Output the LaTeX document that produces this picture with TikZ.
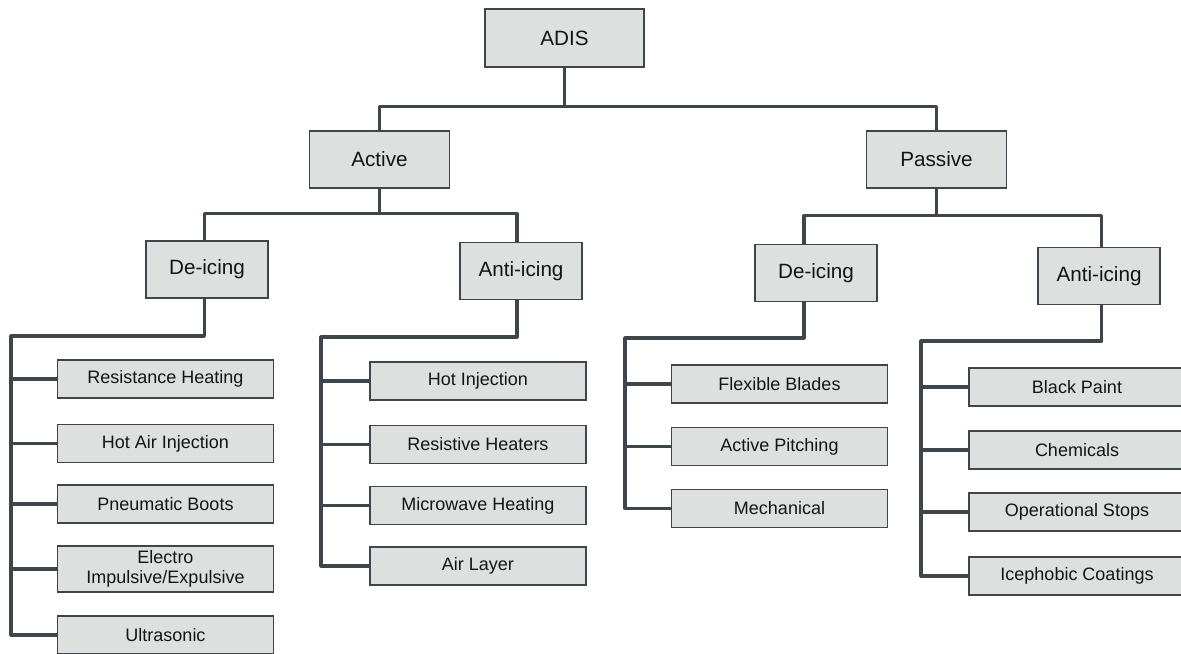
\documentclass[tikz,border=0pt]{standalone}
\usepackage{fontspec}
\setmainfont{Liberation Sans}
\definecolor{colFill}{RGB}{222,224,224}
\definecolor{colLine}{RGB}{62,69,75}
\definecolor{colText}{RGB}{20,20,20}
\tikzstyle{box}=[draw=colLine, fill=colFill, line width=1.2pt, inner sep=0pt, text=colText, align=center]
\tikzstyle{rootbox}=[box, minimum width=119.25pt, minimum height=43.5pt, font=\fontsize{15.5}{18}\selectfont]
\tikzstyle{catbox}=[box, minimum width=105pt, minimum height=42.75pt, font=\fontsize{15.5}{18}\selectfont]
\tikzstyle{subbox}=[box, minimum width=91.5pt, minimum height=42.75pt, font=\fontsize{15.5}{18}\selectfont]
\tikzstyle{leaf}=[box, minimum width=162pt, minimum height=28.5pt, font=\fontsize{13.5}{15}\selectfont]
\tikzstyle{link}=[line width=2.3pt, colLine, line join=round]

\begin{document}
\begin{tikzpicture}[x=0.75pt, y=-0.75pt]
			\clip (0,0) rectangle (1181,653);

			%%% Top levels
			\node[rootbox]  (adis) at (564.5,  38.0) {ADIS};
			\node[catbox]    (act) at (379.5, 159.5) {Active};
			\node[catbox]    (pas) at (936.5, 159.5) {Passive};
			\node[subbox]  (actDe) at (207.0, 269.5) {De-icing};
			\node[subbox] (actAnt) at (521.0, 271.0) {Anti-icing};
			\node[subbox]  (pasDe) at (816.0, 273.0) {De-icing};
			\node[subbox] (pasAnt) at (1099.0, 276.0) {Anti-icing};

			%%% Active, de-icing
			\node[leaf] (ad1) at (165.5, 379.0) {Resistance Heating};
			\node[leaf] (ad2) at (165.5, 443.5) {Hot Air Injection};
			\node[leaf] (ad3) at (165.5, 504.0) {Pneumatic Boots};
			\node[leaf, minimum height=34.5pt] (ad4) at (165.5, 569.0) {Electro\\Impulsive/Expulsive};
			\node[leaf] (ad5) at (165.5, 635.0) {Ultrasonic};

			%%% Active, anti-icing
			\node[leaf] (aa1) at (478.0, 381.0) {Hot Injection};
			\node[leaf] (aa2) at (478.0, 444.5) {Resistive Heaters};
			\node[leaf] (aa3) at (478.0, 505.5) {Microwave Heating};
			\node[leaf] (aa4) at (478.0, 566.0) {Air Layer};

			%%% Passive, de-icing
			\node[leaf] (pd1) at (779.5, 384.0) {Flexible Blades};
			\node[leaf] (pd2) at (779.5, 446.5) {Active Pitching};
			\node[leaf] (pd3) at (779.5, 508.5) {Mechanical};

			%%% Passive, anti-icing
			\node[leaf] (pa1) at (1077.0, 387.0) {Black Paint};
			\node[leaf] (pa2) at (1077.0, 450.0) {Chemicals};
			\node[leaf] (pa3) at (1077.0, 512.0) {Operational Stops};
			\node[leaf] (pa4) at (1077.0, 576.0) {Icephobic Coatings};

			%%% Tree above
			\coordinate (pdTop) at ([xshift=-9pt]pasDe.north);
			\coordinate (pdBot) at ([xshift=-9pt]pasDe.south);
			\draw[link] (adis.south) -- ++(0,39) -| (act.north);
			\draw[link] (adis.south) -- ++(0,39) -| (pas.north);
			\draw[link] (act.south) -- ++(0,25) -| ([xshift=-2pt]actDe.north);
			\draw[link] (act.south) -- ++(0,25) -| ([xshift=-3pt]actAnt.north);
			\draw[link] (pas.south) -- ++(0,27) -| (pdTop);
			\draw[link] (pas.south) -- ++(0,27) -| ([xshift=2pt]pasAnt.north);

			%%% Rails
			\coordinate (r1) at (11, 336);
			\coordinate (r2) at (321, 337);
			\coordinate (r3) at (625, 338);
			\coordinate (r4) at (921, 341);

			\draw[link] ([xshift=-2pt]actDe.south) |- (r1) |- (ad5.west);
			\draw[link] (ad1.west)edge(ad1.west -| r1) (ad2.west)edge(ad2.west -| r1) (ad3.west)edge(ad3.west -| r1) (ad4.west)edge(ad4.west -| r1);

			\draw[link] ([xshift=-3pt]actAnt.south) |- (r2) |- (aa4.west);
			\draw[link] (aa1.west)edge(aa1.west -| r2) (aa2.west)edge(aa2.west -| r2) (aa3.west)edge(aa3.west -| r2);

			\draw[link] (pdBot) |- (r3) |- (pd3.west);
			\draw[link] (pd1.west)edge(pd1.west -| r3) (pd2.west)edge(pd2.west -| r3);

			\draw[link] ([xshift=2pt]pasAnt.south) |- (r4) |- (pa4.west);
			\draw[link] (pa1.west)edge(pa1.west -| r4) (pa2.west)edge(pa2.west -| r4) (pa3.west)edge(pa3.west -| r4);
		\end{tikzpicture}
\end{document}
